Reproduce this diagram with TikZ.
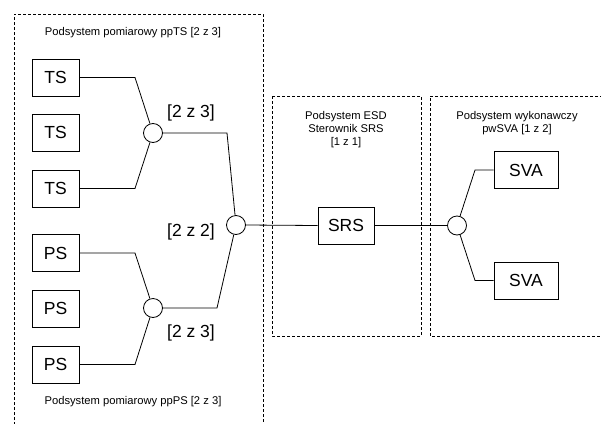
\documentclass[tikz,border=0pt]{standalone}
\usepackage{fontspec}
\setmainfont{Liberation Sans}
\begin{document}
\begin{tikzpicture}[x=1pt,y=-1pt,
  blk/.style={draw=black,line width=0.8pt,minimum width=47pt,minimum height=37pt,inner sep=0pt,font=\fontsize{17.5}{20}\selectfont},
  joint/.style={draw=black,line width=0.8pt,circle,minimum size=19pt,inner sep=0pt,fill=white},
  wire/.style={line width=0.8pt},
  group/.style={line width=0.8pt,dash pattern=on 3pt off 2pt},
  small/.style={font=\fontsize{11.2}{13}\selectfont,align=center,inner sep=0pt},
  big/.style={font=\fontsize{17.5}{20}\selectfont,inner sep=0pt}]
\useasboundingbox (0,0) rectangle (601,423);
% dashed groups
\draw[group] (14,425) -- (14,14) -- (263,14) -- (263,425);
\draw[group] (272,96) rectangle (421,336);
\draw[group] (603,96) -- (430,96) -- (430,336) -- (603,336);
% labels
\node[small] (lt) at (133,33) {Podsystem pomiarowy ppTS [2 z 3]};
\node[small] (lp) at (133,402) {Podsystem pomiarowy ppPS [2 z 3]};
\node[small] (lm) at (346,130) {Podsystem ESD\\Sterownik SRS\\{[1 z 1]}};
\node[small] (lr) at (517,123.5) {Podsystem wykonawczy\\pwSVA [1 z 2]};
\node[big] (l1) at (191,113) {[2 z 3]};
\node[big] (l2) at (191,232) {[2 z 2]};
\node[big] (l3) at (191,333) {[2 z 3]};
% boxes
\node[blk] (ts1) at (55.5,77.5) {TS};
\node[blk] (ts2) at (55.5,132.5) {TS};
\node[blk] (ts3) at (55.5,188.5) {TS};
\node[blk] (ps1) at (55.5,253) {PS};
\node[blk] (ps2) at (55.5,308.5) {PS};
\node[blk] (ps3) at (55.5,364.5) {PS};
\node[blk,minimum width=56pt] (srs) at (346,225.5) {SRS};
\node[blk,minimum width=64pt] (sva1) at (526,170) {SVA};
\node[blk,minimum width=64pt] (sva2) at (526,280.5) {SVA};
% joints
\node[joint] (c1) at (153,133) {};
\node[joint] (c2) at (153,308) {};
\node[joint] (c3) at (236,225) {};
\node[joint] (c4) at (457,225.5) {};
% bend points
\coordinate (b1) at (135,77.5);
\coordinate (b3) at (135,188.5);
\coordinate (b4) at (135,253);
\coordinate (b6) at (135,364.5);
\coordinate (bt) at (227,133);
\coordinate (bp) at (217,308);
\coordinate (bs1) at (475,170);
\coordinate (bs2) at (475,280.5);
% wires
\draw[wire] (ts1.east) -- (b1) -- (c1);
\draw[wire] (ts3.east) -- (b3) -- (c1);
\draw[wire] (ps1.east) -- (b4) -- (c2);
\draw[wire] (ps3.east) -- (b6) -- (c2);
\draw[wire] (c1.east) -- (bt) -- (c3);
\draw[wire] (c2.east) -- (bp) -- (c3);
\draw[wire] (c3.east) -- (srs.west);
\draw[wire] (srs.east) -- (c4.west);
\draw[wire] (c4) -- (bs1) -- (sva1.west);
\draw[wire] (c4) -- (bs2) -- (sva2.west);
\end{tikzpicture}
\end{document}
